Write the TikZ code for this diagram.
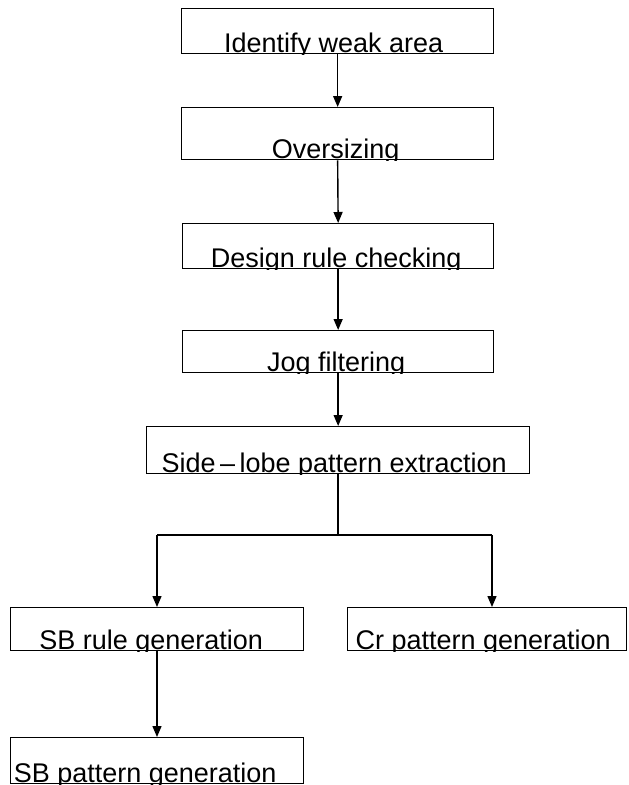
\documentclass[tikz,border=0pt]{standalone}
\usepackage{fontspec}
\setmainfont{Liberation Sans}
\usetikzlibrary{arrows.meta}
\begin{document}
\begin{tikzpicture}[x=1pt,y=-1pt,
  box/.style={draw, line width=1.3pt, rectangle, inner sep=0pt, anchor=north west},
  lbl/.style={anchor=base, inner sep=0pt, font=\fontsize{27}{30}\selectfont},
  arr/.style={line width=1.4pt, -{Triangle[length=11pt,width=9pt]}},
  ln/.style={line width=1.4pt}]
\useasboundingbox (0,0) rectangle (629,785);
% boxes
\node[box, minimum width=312pt, minimum height=45pt] (b1) at (181,8) {};
\node[box, minimum width=312pt, minimum height=52pt] (b2) at (181,107) {};
\node[box, minimum width=311pt, minimum height=45pt] (b3) at (182,223) {};
\node[box, minimum width=311pt, minimum height=42pt] (b4) at (182,330) {};
\node[box, minimum width=383pt, minimum height=47pt] (b5) at (146,426) {};
\node[box, minimum width=293pt, minimum height=43pt] (b6) at (10,607) {};
\node[box, minimum width=279pt, minimum height=43pt] (b7) at (347,607) {};
\node[box, minimum width=293pt, minimum height=46pt] (b8) at (10,737) {};
% labels (descenders clipped at box bottom)
\begin{scope}\clip (b1.south west) rectangle (b1.north east);
\node[lbl] (t1) at ([yshift=2pt,xshift=-4pt]b1.south) {Identify weak area};\end{scope}
\begin{scope}\clip (b2.south west) rectangle (b2.north east);
\node[lbl] (t2) at ([yshift=2pt,xshift=-2pt]b2.south) {Oversizing};\end{scope}
\begin{scope}\clip (b3.south west) rectangle (b3.north east);
\node[lbl] (t3) at ([yshift=2pt,xshift=-2pt]b3.south) {Design rule checking};\end{scope}
\begin{scope}\clip (b4.south west) rectangle (b4.north east);
\node[lbl] (t4) at ([yshift=2pt,xshift=-2pt]b4.south) {Jog filtering};\end{scope}
\begin{scope}\clip (b5.south west) rectangle (b5.north east);
\node[lbl] (t5) at ([yshift=2pt,xshift=-4pt]b5.south) {Side\,–\,lobe pattern extraction};\end{scope}
\begin{scope}\clip (b6.south west) rectangle (b6.north east);
\node[lbl] (t6) at ([yshift=2pt,xshift=-6pt]b6.south) {SB rule generation};\end{scope}
\begin{scope}\clip (b7.south west) rectangle (b7.north east);
\node[lbl] (t7) at ([yshift=2pt,xshift=-4pt]b7.south) {Cr pattern generation};\end{scope}
\begin{scope}\clip (b8.south west) rectangle (b8.north east);
\node[lbl] (t8) at ([yshift=2pt,xshift=-12pt]b8.south) {SB pattern generation};\end{scope}
% connectors
\draw[arr] (b1.south) -- (b2.north);
\draw[arr] (b2.south) -- (b3.north);
\draw[arr] (b3.south) -- (b4.north);
\draw[arr] (b4.south) -- (b5.north);
\coordinate (jl) at (157,535);
\coordinate (jr) at (492,535);
\draw[ln] (b5.south) -- (b5.south |- jl);
\draw[ln] (jl) -- (jr);
\draw[arr] (jl) -- (jl |- b6.north);
\draw[arr] (jr) -- (jr |- b7.north);
\draw[arr] (jl |- b6.south) -- (jl |- b8.north);
\end{tikzpicture}
\end{document}
